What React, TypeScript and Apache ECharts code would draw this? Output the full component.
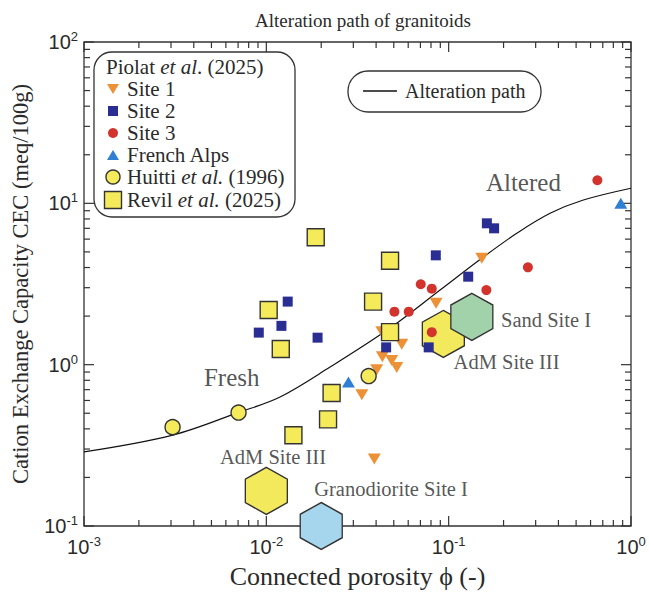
import React, { useEffect, useRef } from "react";
import * as echarts from "echarts";

// ---- data (porosity, CEC) ----
const site1 = [[0.0334, 0.65], [0.0403, 0.93], [0.0433, 1.12], [0.0487, 1.06], [0.0519, 0.96], [0.0553, 1.34], [0.043, 1.6], [0.0853, 2.4], [0.152, 4.56], [0.0391, 0.26]];
const site2 = [[0.00909, 1.58], [0.0121, 1.74], [0.0131, 2.46], [0.0191, 1.47], [0.0454, 1.28], [0.0777, 1.28], [0.085, 4.76], [0.128, 3.51], [0.162, 7.52], [0.1775, 7.0]];
const site3 = [[0.0504, 2.13], [0.0604, 2.13], [0.0703, 3.15], [0.0808, 2.96], [0.0808, 1.59], [0.161, 2.9], [0.272, 4.01], [0.654, 13.9]];
const frenchAlps = [[0.0282, 0.78], [0.879, 10.0]];
const huitti = [[0.00306, 0.41], [0.00704, 0.505], [0.0364, 0.85]];
const revil = [[0.01866, 6.16], [0.0103, 2.18], [0.012, 1.25], [0.0385, 2.46], [0.0477, 4.41], [0.0477, 1.59], [0.0228, 0.667], [0.0218, 0.458], [0.01408, 0.365]];
const hexAdM = [[0.0935, 1.55], [0.01, 0.165]];
const hexSand = [[0.134, 1.98]];
const hexGrano = [[0.02, 0.1]];
const alterationPath = [[0.001, 0.288], [0.00307, 0.366], [0.00706, 0.506], [0.01189, 0.63], [0.02235, 0.966], [0.0477, 1.686], [0.0897, 2.9], [0.1544, 4.63], [0.2363, 6.52], [0.36, 8.67], [0.548, 10.48], [1.0, 12.4]];
const regionLabels = [["Fresh", 0.00646, 0.834], ["Altered", 0.257, 13.5]];
const hexLabels = [["Sand Site I", 0.342, 1.89], ["AdM Site III", 0.2077, 1.04], ["AdM Site III", 0.01088, 0.2686], ["Granodiorite Site I", 0.0483, 0.1686]];
const legendEntries = ["{n|Piolat }{i|et al}{n|. (2025)}", "{n|Site 1}", "{n|Site 2}", "{n|Site 3}", "{n|French Alps}", "{n|Huitti }{i|et al.}{n| (1996)}", "{n|Revil }{i|et al.}{n| (2025)}"];
const xRange = [0.001, 1];
const yRange = [0.1, 100];
const xDecades = [-3, -2, -1];
const yDecades = [-1, 0, 1];

const SERIF = "'Liberation Serif', 'Times New Roman', serif";
const SANS = "'Liberation Sans', Arial, sans-serif";
const INK = "#2a2a2a";
const HEX = "path://M0,-1 L0.866,-0.5 L0.866,0.5 L0,1 L-0.866,0.5 L-0.866,-0.5 Z";

function tickList(decades: number[], maxVal: number) {
  const out: number[][] = [];
  decades.forEach((e) => {
    for (let m = 1; m <= 9; m++) out.push([m * Math.pow(10, e), m === 1 ? 1 : 0]);
  });
  out.push([maxVal, 1]);
  return out;
}

export default function App() {
  const ref = useRef<HTMLDivElement>(null);
  useEffect(() => {
    if (!ref.current) return;
    const chart = echarts.init(ref.current, undefined, { renderer: "svg" });
    const xt = tickList(xDecades, xRange[1]);
    const yt = tickList(yDecades, yRange[1]);
    const lbl = (v: number) => {
      const e = Math.round(Math.log10(v));
      return `{b|10}{s|${e}}`;
    };
    const rich = {
      b: { fontFamily: SANS, fontSize: 20, color: INK, lineHeight: 24 },
      s: { fontFamily: SANS, fontSize: 13, color: INK, verticalAlign: "top", lineHeight: 13 },
    };
    const tickStyle = { stroke: "#333", lineWidth: 1.2 };
    const hexSeries = (data: number[][], color: string) => ({
      type: "scatter",
      data,
      symbol: HEX,
      symbolSize: [42, 47],
      clip: false,
      itemStyle: { color, borderColor: "#333", borderWidth: 1.4, opacity: 1 },
      z: 2,
    });
    const labelSeries = (items: any[], fontSize: number) => ({
      type: "scatter",
      data: items.map((d) => ({ name: d[0], value: [d[1], d[2]] })),
      symbolSize: 0,
      clip: false,
      silent: true,
      label: { show: true, position: "inside", formatter: "{b}", fontFamily: SERIF, fontSize, color: INK },
      z: 3,
    });
    const tri = (cx: number, cy: number, down: boolean, w: number, h: number) =>
      down
        ? [[cx - w / 2, cy - h / 2], [cx + w / 2, cy - h / 2], [cx, cy + h / 2]]
        : [[cx - w / 2, cy + h / 2], [cx + w / 2, cy + h / 2], [cx, cy - h / 2]];
    const legRich = {
      n: { fontFamily: SERIF, fontSize: 21, fontWeight: "normal", color: INK, lineHeight: 20 },
      i: { fontFamily: SERIF, fontSize: 21, fontWeight: "normal", fontStyle: "italic", color: INK, lineHeight: 20 },
    };
    const legendY = [67, 89, 111, 133, 155, 177, 200];
    const legendTitles = legendEntries.map((t, k) => ({
      text: t,
      left: k === 0 ? 106 : 127,
      top: legendY[k] - 10,
      padding: 0,
      z: 10,
      textStyle: { fontWeight: "normal", rich: legRich },
    }));
    const option: any = {
      animation: false,
      backgroundColor: "#fff",
      title: [
        {
          text: "Alteration path of granitoids",
          left: 358,
          textAlign: "center",
          top: 6,
          textStyle: { fontFamily: SERIF, fontSize: 19, fontWeight: "normal", color: INK },
        },
        ...legendTitles,
        {
          text: "Alteration path",
          left: 405,
          top: 81,
          padding: 0,
          z: 10,
          textStyle: { fontFamily: SERIF, fontSize: 20, fontWeight: "normal", color: INK, lineHeight: 20 },
        },
      ],
      grid: { left: 84, top: 42, width: 547, height: 484, show: true, borderColor: "#333", borderWidth: 1.3, backgroundColor: "transparent" },
      xAxis: {
        type: "log",
        logBase: 10,
        min: xRange[0],
        max: xRange[1],
        name: "Connected porosity \u03d5 (-)",
        nameLocation: "middle",
        nameGap: 37,
        nameTextStyle: { fontFamily: SERIF, fontSize: 26, color: INK },
        axisLine: { show: false },
        axisTick: { show: false },
        splitLine: { show: false },
        axisLabel: { formatter: lbl, rich, margin: 9 },
      },
      yAxis: {
        type: "log",
        logBase: 10,
        min: yRange[0],
        max: yRange[1],
        name: "Cation Exchange Capacity CEC (meq/100g)",
        nameLocation: "middle",
        nameRotate: 90,
        nameGap: 52,
        nameTextStyle: { fontFamily: SERIF, fontSize: 22.5, color: INK },
        axisLine: { show: false },
        axisTick: { show: false },
        splitLine: { show: false },
        axisLabel: { formatter: lbl, rich, margin: 6 },
      },
      series: [
        {
          type: "custom",
          data: xt.map((t) => [t[0], yRange[0], t[1]]),
          encode: { x: 0, y: 1 },
          silent: true,
          z: 1,
          renderItem: (params: any, api: any) => {
            const v = api.value(0);
            const len = api.value(2) ? 10 : 6;
            const p0 = api.coord([v, yRange[0]]);
            const p1 = api.coord([v, yRange[1]]);
            return {
              type: "group",
              children: [
                { type: "line", shape: { x1: p0[0], y1: p0[1], x2: p0[0], y2: p0[1] - len }, style: tickStyle },
                { type: "line", shape: { x1: p1[0], y1: p1[1], x2: p1[0], y2: p1[1] + len }, style: tickStyle },
              ],
            };
          },
        },
        {
          type: "custom",
          data: yt.map((t) => [xRange[0], t[0], t[1]]),
          encode: { x: 0, y: 1 },
          silent: true,
          z: 1,
          renderItem: (params: any, api: any) => {
            const v = api.value(1);
            const len = api.value(2) ? 10 : 6;
            const p0 = api.coord([xRange[0], v]);
            const p1 = api.coord([xRange[1], v]);
            return {
              type: "group",
              children: [
                { type: "line", shape: { x1: p0[0], y1: p0[1], x2: p0[0] + len, y2: p0[1] }, style: tickStyle },
                { type: "line", shape: { x1: p1[0], y1: p1[1], x2: p1[0] - len, y2: p1[1] }, style: tickStyle },
              ],
            };
          },
        },
        hexSeries(hexAdM, "#f3e95c"),
        hexSeries(hexSand, "#a2d2aa"),
        hexSeries(hexGrano, "#a6d6ee"),
        {
          name: "Alteration path",
          type: "line",
          data: alterationPath,
          smooth: 0.35,
          showSymbol: false,
          symbol: "none",
          lineStyle: { color: "#111", width: 1.2 },
          z: 3,
        },
        { name: "Site 1", type: "scatter", data: site1, symbol: "triangle", symbolRotate: 180, symbolSize: [13, 11], itemStyle: { color: "#ec9136", opacity: 1 }, z: 4 },
        { name: "Site 2", type: "scatter", data: site2, symbol: "rect", symbolSize: 10, itemStyle: { color: "#2a2d92", opacity: 1 }, z: 4 },
        { name: "Site 3", type: "scatter", data: site3, symbol: "circle", symbolSize: 10, itemStyle: { color: "#d2332c", opacity: 1 }, z: 4 },
        { name: "French Alps", type: "scatter", data: frenchAlps, symbol: "triangle", symbolSize: [13, 11], clip: false, itemStyle: { color: "#2f80d2", opacity: 1 }, z: 4 },
        { name: "Huitti et al. (1996)", type: "scatter", data: huitti, symbol: "circle", symbolSize: 15, itemStyle: { color: "#f5ea5a", borderColor: "#333", borderWidth: 1.4, opacity: 1 }, z: 5 },
        { name: "Revil et al. (2025)", type: "scatter", data: revil, symbol: "rect", symbolSize: 17, itemStyle: { color: "#f5ea5a", borderColor: "#333", borderWidth: 1.4, opacity: 1 }, z: 5 },
        labelSeries(regionLabels, 25),
        labelSeries(hexLabels, 20.5),
      ],
      graphic: [
        { type: "rect", shape: { x: 94, y: 52, width: 201, height: 165, r: 18 }, style: { fill: "#fff", stroke: "#333", lineWidth: 1.3 }, z: 5 },
        { type: "polygon", shape: { points: tri(113, 89, true, 12, 10) }, style: { fill: "#ec9136" }, z: 6 },
        { type: "rect", shape: { x: 108, y: 106, width: 10, height: 10 }, style: { fill: "#2a2d92" }, z: 6 },
        { type: "circle", shape: { cx: 113, cy: 133, r: 5 }, style: { fill: "#d2332c" }, z: 6 },
        { type: "polygon", shape: { points: tri(113, 155, false, 12, 10) }, style: { fill: "#2f80d2" }, z: 6 },
        { type: "circle", shape: { cx: 113, cy: 177, r: 7 }, style: { fill: "#f5ea5a", stroke: "#333", lineWidth: 1.4 }, z: 6 },
        { type: "rect", shape: { x: 104.5, y: 191.5, width: 17, height: 17 }, style: { fill: "#f5ea5a", stroke: "#333", lineWidth: 1.4 }, z: 6 },
        { type: "rect", shape: { x: 348, y: 71, width: 193, height: 41, r: 20 }, style: { fill: "#fff", stroke: "#333", lineWidth: 1.3 }, z: 5 },
        { type: "line", shape: { x1: 363, y1: 91, x2: 397, y2: 91 }, style: { stroke: "#111", lineWidth: 1.3 }, z: 6 },
      ],
    };
    chart.setOption(option);
    return () => chart.dispose();
  }, []);
  return <div ref={ref} style={{ position: "fixed", left: 0, top: 0, width: 649, height: 594 }} />;
}
